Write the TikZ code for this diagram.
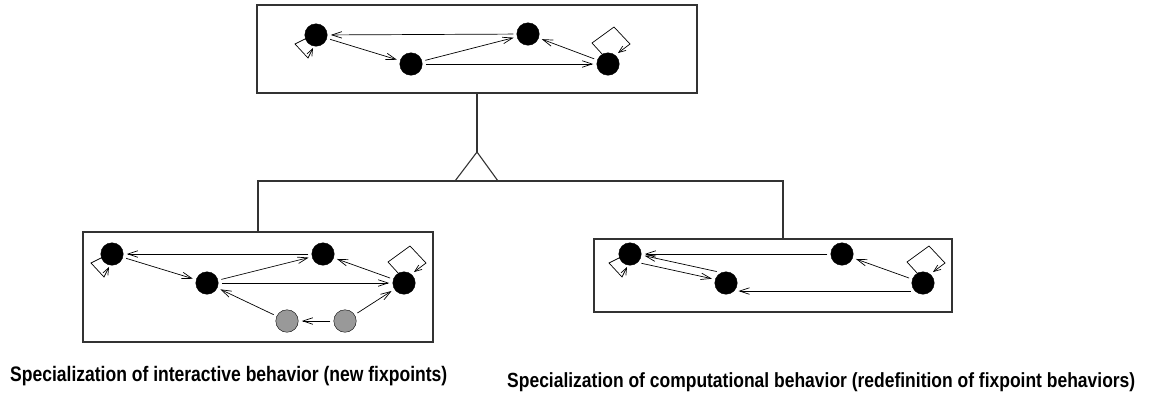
\documentclass[tikz,border=0pt]{standalone}
\usepackage{fontspec}
\setmainfont{Liberation Sans}
\usetikzlibrary{arrows.meta}
\tikzset{
  st/.style={circle, fill=black, draw=black, line width=0.4pt, minimum size=22.5pt, inner sep=0pt, outer sep=3.5pt},
  gst/.style={st, fill=gray!80},
  boxst/.style={draw=black!80, line width=1.1pt, inner sep=0pt},
  edgeln/.style={draw=black, line width=0.7pt, -{Straight Barb[length=10pt,width=6.5pt]}},
  loopln/.style={draw=black, line width=0.7pt, -{Straight Barb[length=7pt,width=5.5pt]}},
  linkln/.style={draw=black!80, line width=1.1pt},
  lbl/.style={anchor=base west, inner sep=0pt, font=\bfseries}
}
\newcommand\llloop[1]{\draw[loopln] ([shift={(-9,3)}]#1.center) -- ([shift={(-21,9)}]#1.center) -- ([shift={(-8,23)}]#1.center) -- ([shift={(-3,13)}]#1.center);}
\newcommand\uploop[1]{\draw[loopln] ([shift={(-5,-9)}]#1.center) -- ([shift={(-16,-21)}]#1.center) -- ([shift={(6,-37)}]#1.center) -- ([shift={(22,-20)}]#1.center) -- ([shift={(10,-11)}]#1.center);}
\begin{document}
\begin{tikzpicture}[x=1pt,y=-1pt]
\useasboundingbox (0,0) rectangle (1150,392);
% boxes
\node[boxst, minimum width=440pt, minimum height=88pt] (top) at (477,49) {};
\node[boxst, minimum width=350pt, minimum height=110pt] (lbox) at (258,287) {};
\node[boxst, minimum width=358pt, minimum height=73pt] (rbox) at (773,275.5) {};
% inheritance
\coordinate (apex) at (477,152);
\coordinate (tl) at (455,181);
\coordinate (tr) at (498,181);
\coordinate (rbr) at (783,181);
\draw[linkln] (top.south) -- (apex);
\draw[linkln] (apex) -- (tl) -- (tr) -- cycle;
\draw[linkln] (lbox.north) |- (rbr) -- (rbr |- rbox.north);
% top graph
\node[st] (A1) at (316,35) {};
\node[st] (B1) at (411,64) {};
\node[st] (C1) at (528,34) {};
\node[st] (D1) at (608,64) {};
\draw[edgeln] (C1) -- (A1);
\draw[edgeln] (A1) -- (B1);
\draw[edgeln] (B1) -- (C1);
\draw[edgeln] (B1) -- (D1);
\draw[edgeln] (D1) -- (C1);
\llloop{A1}
\uploop{D1}
% left graph
\node[st] (A2) at (112,254) {};
\node[st] (B2) at (207,283) {};
\node[st] (C2) at (323,254) {};
\node[st] (D2) at (404,283) {};
\node[gst] (E2) at (287,321) {};
\node[gst] (F2) at (345,321) {};
\draw[edgeln] (C2) -- (A2);
\draw[edgeln] (A2) -- (B2);
\draw[edgeln] (B2) -- (C2);
\draw[edgeln] (B2) -- (D2);
\draw[edgeln] (D2) -- (C2);
\draw[edgeln] (F2) -- (D2);
\draw[edgeln] (F2) -- (E2);
\draw[edgeln] (E2) -- (B2);
\llloop{A2}
\uploop{D2}
% right graph
\node[st] (A3) at (630,254) {};
\node[st] (B3) at (726,283) {};
\node[st] (C3) at (842,254) {};
\node[st] (D3) at (923,283) {};
\draw[edgeln] (C3) -- (A3);
\draw[edgeln] (A3.-39) -- (B3.163);
\draw[edgeln] (B3.129) -- (A3.-7);
\draw[edgeln] (D3.213) -- (B3.-33);
\draw[edgeln] (D3) -- (C3);
\llloop{A3}
\uploop{D3}
% labels
\node[lbl] (t1) at (10,381) {\resizebox{437pt}{\height}{\fontsize{21}{22}\selectfont\bfseries Specialization of interactive behavior (new fixpoints)}};
\node[lbl] (t2) at (507,387) {\resizebox{628pt}{\height}{\fontsize{20.5}{22}\selectfont\bfseries Specialization of computational behavior (redefinition of fixpoint behaviors)}};
\end{tikzpicture}
\end{document}
